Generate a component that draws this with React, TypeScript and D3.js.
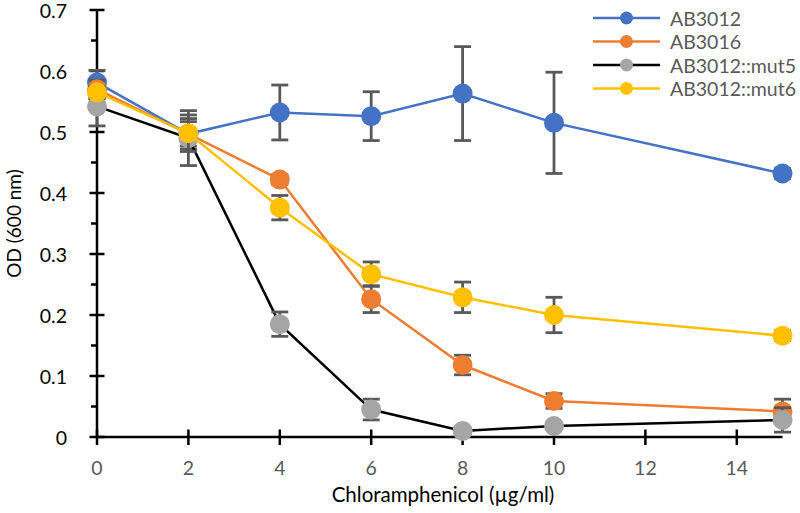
import React from "react";
import * as d3 from "d3";

const concentrations = [0, 2, 4, 6, 8, 10, 15];
const seriesNames = ["AB3012", "AB3016", "AB3012::mut5", "AB3012::mut6"];
const ab3012 = [0.581, 0.497, 0.532, 0.526, 0.563, 0.515, 0.432];
const ab3012Err = [0.02, 0.025, 0.045, 0.04, 0.077, 0.083, 0.008];
const ab3016 = [0.57, 0.497, 0.422, 0.226, 0.118, 0.059, 0.042];
const ab3016Err = [0.015, 0.02, 0.008, 0.022, 0.016, 0.012, 0.02];
const mut5 = [0.542, 0.49, 0.185, 0.045, 0.01, 0.018, 0.028];
const mut5Err = [0.032, 0.045, 0.02, 0.017, 0.004, 0.005, 0.02];
const mut6 = [0.565, 0.498, 0.376, 0.267, 0.229, 0.2, 0.166];
const mut6Err = [0.01, 0.03, 0.02, 0.02, 0.025, 0.029, 0.008];
const xTicks = [0, 2, 4, 6, 8, 10, 12, 14];
const yTicks = [0, 0.1, 0.2, 0.3, 0.4, 0.5, 0.6, 0.7];
const yMinorTicks = [0.05, 0.15, 0.25, 0.35, 0.45, 0.55, 0.65];

const lineColors = ["#4472C4", "#ED7D31", "#000000", "#FFC000"];
const markerColors = ["#4472C4", "#ED7D31", "#A5A5A5", "#FFC000"];

const FONT = "Lato, 'Open Sans', sans-serif";

export default function App() {
  const width = 800;
  const height = 513;
  const x = d3.scaleLinear().domain([0, 15]).range([97, 782.5]);
  const y = d3.scaleLinear().domain([0, 0.7]).range([437, 10]);
  const values = [ab3012, ab3016, mut5, mut6];
  const errs = [ab3012Err, ab3016Err, mut5Err, mut6Err];
  const line = d3
    .line<number>()
    .x((_, i) => x(concentrations[i]))
    .y((d) => y(d));
  const capHalf = 8.5;
  const errColor = "#595959";

  const legendRows = [18, 41.5, 65, 88.5];

  return (
    <svg
      width={width}
      height={height}
      style={{ position: "absolute", left: 0, top: 0, background: "#fff" }}
    >
      <rect x={0} y={0} width={width} height={height} fill="#fff" />
      {/* axes */}
      <line x1={x(0)} x2={x(0)} y1={y(0.7)} y2={y(0)} stroke="#000" strokeWidth={2.5} />
      <line x1={x(0) - 1} x2={x(15)} y1={y(0)} y2={y(0)} stroke="#000" strokeWidth={2.5} />
      {yTicks.map((t) => (
        <g key={"yt" + t}>
          <line x1={x(0) - 7.5} x2={x(0) + 7.5} y1={y(t)} y2={y(t)} stroke="#000" strokeWidth={2.5} />
          <text
            x={67}
            y={y(t)}
            textAnchor="end"
            dominantBaseline="central"
            fontFamily={FONT}
            fontSize={19.5}
            fill="#000"
          >
            {t === 0 ? "0" : d3.format(".1f")(t)}
          </text>
        </g>
      ))}
      {yMinorTicks.map((t) => (
        <line key={"ym" + t} x1={x(0) - 6} x2={x(0)} y1={y(t)} y2={y(t)} stroke="#000" strokeWidth={2.5} />
      ))}
      {xTicks.map((t) => (
        <g key={"xt" + t}>
          <line x1={x(t)} x2={x(t)} y1={y(0) - 7.5} y2={y(0) + 8} stroke="#000" strokeWidth={2.5} />
          <text
            x={x(t)}
            y={467}
            textAnchor="middle"
            dominantBaseline="central"
            fontFamily={FONT}
            fontSize={19.5}
            fill="#595959"
          >
            {t}
          </text>
        </g>
      ))}
      <text
        x={443}
        y={494}
        textAnchor="middle"
        dominantBaseline="central"
        fontFamily={FONT}
        fontSize={20.5}
        fill="#000"
      >
        Chloramphenicol (µg/ml)
      </text>
      <text
        transform={`translate(13, ${(y(0) + y(0.7)) / 2}) rotate(-90)`}
        textAnchor="middle"
        dominantBaseline="central"
        fontFamily={FONT}
        fontSize={19}
        fill="#000"
      >
        OD (600 nm)
      </text>

      {/* series */}
      {values.map((vals, si) => (
        <g key={"s" + si}>
          <path d={line(vals) || ""} fill="none" stroke={lineColors[si]} strokeWidth={2.5} />
          {vals.map((v, i) => {
            const cx = x(concentrations[i]);
            const e = errs[si][i];
            return (
              <g key={"e" + i}>
                <line x1={cx} x2={cx} y1={y(v + e)} y2={y(v - e)} stroke={errColor} strokeWidth={2.8} />
                <line x1={cx - capHalf} x2={cx + capHalf} y1={y(v + e)} y2={y(v + e)} stroke={errColor} strokeWidth={2.8} />
                <line x1={cx - capHalf} x2={cx + capHalf} y1={y(v - e)} y2={y(v - e)} stroke={errColor} strokeWidth={2.8} />
              </g>
            );
          })}
          {vals.map((v, i) => (
            <circle key={"m" + i} cx={x(concentrations[i])} cy={y(v)} r={10} fill={markerColors[si]} />
          ))}
        </g>
      ))}

      {/* legend */}
      {seriesNames.map((name, i) => (
        <g key={"lg" + i}>
          <line x1={593} x2={660} y1={legendRows[i]} y2={legendRows[i]} stroke={lineColors[i]} strokeWidth={2.5} />
          <circle cx={626.5} cy={legendRows[i]} r={6.5} fill={markerColors[i]} />
          <text
            x={670}
            y={legendRows[i]}
            dominantBaseline="central"
            fontFamily={FONT}
            fontSize={19.5}
            fill="#595959"
          >
            {name}
          </text>
        </g>
      ))}
    </svg>
  );
}
